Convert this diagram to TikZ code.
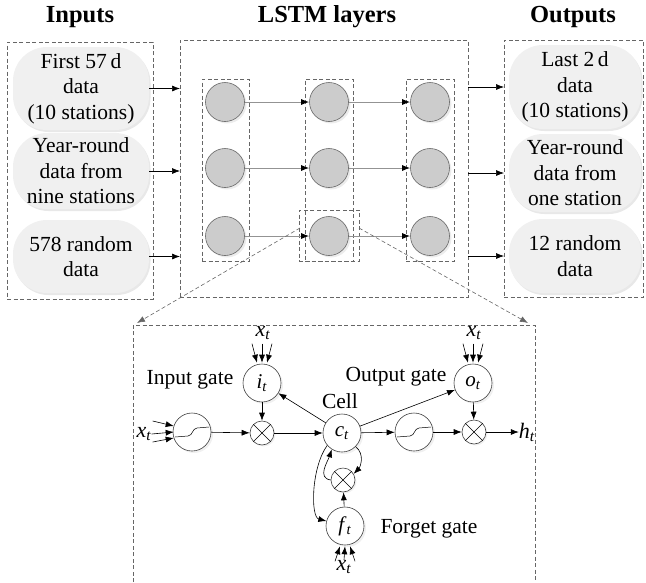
\documentclass[tikz,border=0pt]{standalone}
\usepackage{fontspec}
\setmainfont{Liberation Serif}
\usetikzlibrary{arrows.meta,shadows,calc}
\newcommand{\vv}[2]{\textit{#1}\textsubscript{\textit{#2}}}
\begin{document}
\begin{tikzpicture}[x=1pt,y=-1pt,
  dbox/.style={draw=black!60, dash pattern=on 4pt off 2.5pt, line width=0.6pt, inner sep=0pt, outer sep=0pt},
  pill/.style={rounded corners=34pt, fill=gray!12, align=center, inner sep=0pt,
    font=\fontsize{21.5}{25.5}\selectfont,
    drop shadow={opacity=0.18,shadow xshift=1.5pt,shadow yshift=-2pt}},
  neuron/.style={circle, fill=gray!40, draw=black!60, line width=0.6pt, minimum size=39pt, inner sep=0pt,
    drop shadow={opacity=0.15,shadow xshift=2pt,shadow yshift=-2pt}},
  gate/.style={circle, draw=black!75, fill=white, line width=0.6pt, minimum size=38pt, inner sep=0pt,
    font=\fontsize{21}{24}\selectfont,
    drop shadow={opacity=0.12,shadow xshift=2pt,shadow yshift=-2pt}},
  mult/.style={circle, draw=black!75, fill=white, line width=0.6pt, minimum size=24pt, inner sep=0pt,
    drop shadow={opacity=0.12,shadow xshift=1.5pt,shadow yshift=-1.5pt}},
  arr/.style={-{Latex[length=8pt,width=6pt]}, line width=0.6pt},
  garr/.style={-{Latex[length=8pt,width=6pt,color=black]}, draw=gray!85, line width=1pt},
  thin/.style={line width=0.5pt},
  ttl/.style={font=\bfseries\fontsize{24.5}{28}\selectfont},
  lbl/.style={font=\fontsize{21.5}{25}\selectfont, inner sep=0pt},
  vlbl/.style={font=\fontsize{22}{24}\selectfont, inner sep=0pt}
]
\useasboundingbox (0,0) rectangle (646,582);

% titles
\node[ttl] (tin) at (80,17) {Inputs};
\node[ttl] (tlstm) at (327,17) {LSTM layers};
\node[ttl] (tout) at (573,17) {Outputs};

% outer dashed boxes
\node[dbox, minimum width=146pt, minimum height=257pt] (inbox) at (80,170.5) {};
\node[dbox, minimum width=288pt, minimum height=257pt] (lstm) at (324,168.5) {};
\node[dbox, minimum width=139pt, minimum height=257pt] (outbox) at (573.5,168.5) {};

% input pills
\node[pill, minimum width=136pt, minimum height=83pt] (in1) at (81,88.5) {First 57\,d\\data\\(10 stations)};
\node[pill, minimum width=136pt, minimum height=76pt] (in2) at (81,171) {Year-round\\data from\\nine stations};
\node[pill, minimum width=136pt, minimum height=73pt] (in3) at (81,256.5) {578 random\\data};

% output pills
\node[pill, minimum width=132pt, minimum height=84pt] (out1) at (575,87) {Last 2\,d\\data\\(10 stations)};
\node[pill, minimum width=132pt, minimum height=78pt] (out2) at (575,173) {Year-round\\data from\\one station};
\node[pill, minimum width=132pt, minimum height=74pt] (out3) at (575,256) {12 random\\data};

% arrows in / out
\foreach \n in {in1,in2,in3}{
  \draw[arr] (\n.east) -- (\n.east -| lstm.west);
}
\foreach \n in {out1,out2,out3}{
  \draw[arr] (\n.west -| lstm.east) -- (\n.west -| outbox.west);
}

% column boxes
\node[dbox, minimum width=47pt, minimum height=182pt] (col1) at (225.5,170) {};
\node[dbox, minimum width=48pt, minimum height=182pt] (col2) at (329,170) {};
\node[dbox, minimum width=48pt, minimum height=182pt] (col3) at (430,170) {};
\node[dbox, minimum width=60pt, minimum height=51pt] (hl) at (329,235.5) {};

% neurons
\foreach \c/\x in {1/225,2/329,3/430}{
  \foreach \r/\y in {1/102,2/168,3/236}{
    \node[neuron] (n\c\r) at (\x,\y) {};
  }
}
\foreach \r in {1,2,3}{
  \draw[garr] (n1\r) -- (n2\r);
  \draw[garr] (n2\r) -- (n3\r);
}

% detail box (open at bottom)
\coordinate (dbl) at (133,582);
\coordinate (dtl) at (133,325);
\coordinate (dtr) at (535,325);
\coordinate (dbr) at (535,582);
\draw[dbox] (dbl) -- (dtl) -- (dtr) -- (dbr);

% zoom lines
\coordinate (zl) at (300,228);
\coordinate (zr) at (359,228);
\coordinate (zle) at (137,323);
\coordinate (zre) at (528,323);
\draw[dbox, -{Latex[length=8pt,width=6pt]}] (zl) -- (zle);
\draw[dbox, -{Latex[length=8pt,width=6pt]}] (zr) -- (zre);

% LSTM cell detail
\node[gate] (it) at (262,383) {\vv{i}{t}};
\node[mult] (m1) at (262,433) {};
\node[gate] (s1) at (192,432) {};
\node[gate] (ct) at (342,433) {\vv{c}{t}};
\node[gate] (ot) at (473,383) {\vv{o}{t}};
\node[gate] (s2) at (414,432) {};
\node[mult] (m2) at (474,432) {};
\node[mult] (m3) at (343,480) {};
\node[gate] (ft) at (345,526) {\vv{f}{t}};

% crosses
\foreach \m in {m1,m2,m3}{
  \draw[thin] (\m.north west) -- (\m.south east);
  \draw[thin] (\m.north east) -- (\m.south west);
}
% squashing curves
\foreach \s in {s1,s2}{
  \draw[thin] ($(\s)+(-17,5)$) -- ($(\s)+(-4,4)$) .. controls ($(\s)+(1,3.5)$) and ($(\s)+(0,-3.5)$) .. ($(\s)+(5,-4)$) -- ($(\s)+(17,-5)$);
}

% labels
\node[lbl] (lin) at (190,380) {Input gate};
\node[lbl] (lout) at (396,377) {Output gate};
\node[lbl] (lcell) at (340,401) {Cell};
\node[lbl] (lfor) at (429,529) {Forget gate};

\node[vlbl] (xi) at (263,333) {\vv{x}{t}};
\node[vlbl] (xo) at (474,333) {\vv{x}{t}};
\node[vlbl] (xl) at (144,434) {\vv{x}{t}};
\node[vlbl] (xf) at (344,567) {\vv{x}{t}};
\node[vlbl] (ht) at (527,432) {\vv{h}{t}};

% converging inputs
\foreach \g/\n in {it/xi, ot/xo}{
  \draw[arr] ($(\g.north)+(-10,-20)$) -- ($(\g.north)+(-5,-1)$);
  \draw[arr] ($(\g.north)+(0,-20)$) -- ($(\g.north)+(0,-1)$);
  \draw[arr] ($(\g.north)+(10,-20)$) -- ($(\g.north)+(5,-1)$);
}
\draw[arr] ($(ft.south)+(-10,16)$) -- ($(ft.south)+(-5,1)$);
\draw[arr] (xf.north) -- ($(ft.south)+(0,1)$);
\draw[arr] ($(ft.south)+(10,16)$) -- ($(ft.south)+(5,1)$);

\draw[arr] ($(s1.west)+(-20,-11)$) -- ($(s1.west)+(1,-6)$);
\draw[arr] (xl.east) -- ($(s1.west)+(1,0)$);
\draw[arr] ($(s1.west)+(-20,10)$) -- ($(s1.west)+(1,6)$);

% main flow
\draw[arr] (s1) -- (m1);
\draw[arr] (it) -- (m1);
\draw[arr] (m1) -- (ct);
\draw[arr] (ct) -- (it);
\draw[arr] (ct) -- (ot);
\draw[arr] (ct) -- (s2);
\draw[arr] (s2) -- (m2);
\draw[arr] (ot) -- (m2);
\draw[arr] (m2) -- (ht);
\draw[arr] (ft) -- (m3);
\draw[arr] (m3.west) .. controls +(-14,-2) and +(-4,12) .. (ct.238);
\draw[arr] (ct.-45) .. controls +(10,8) and +(6,-6) .. (m3.30);
\draw[arr] (ct.220) .. controls +(-16,22) and +(-16,-4) .. (ft.165);
\end{tikzpicture}
\end{document}
